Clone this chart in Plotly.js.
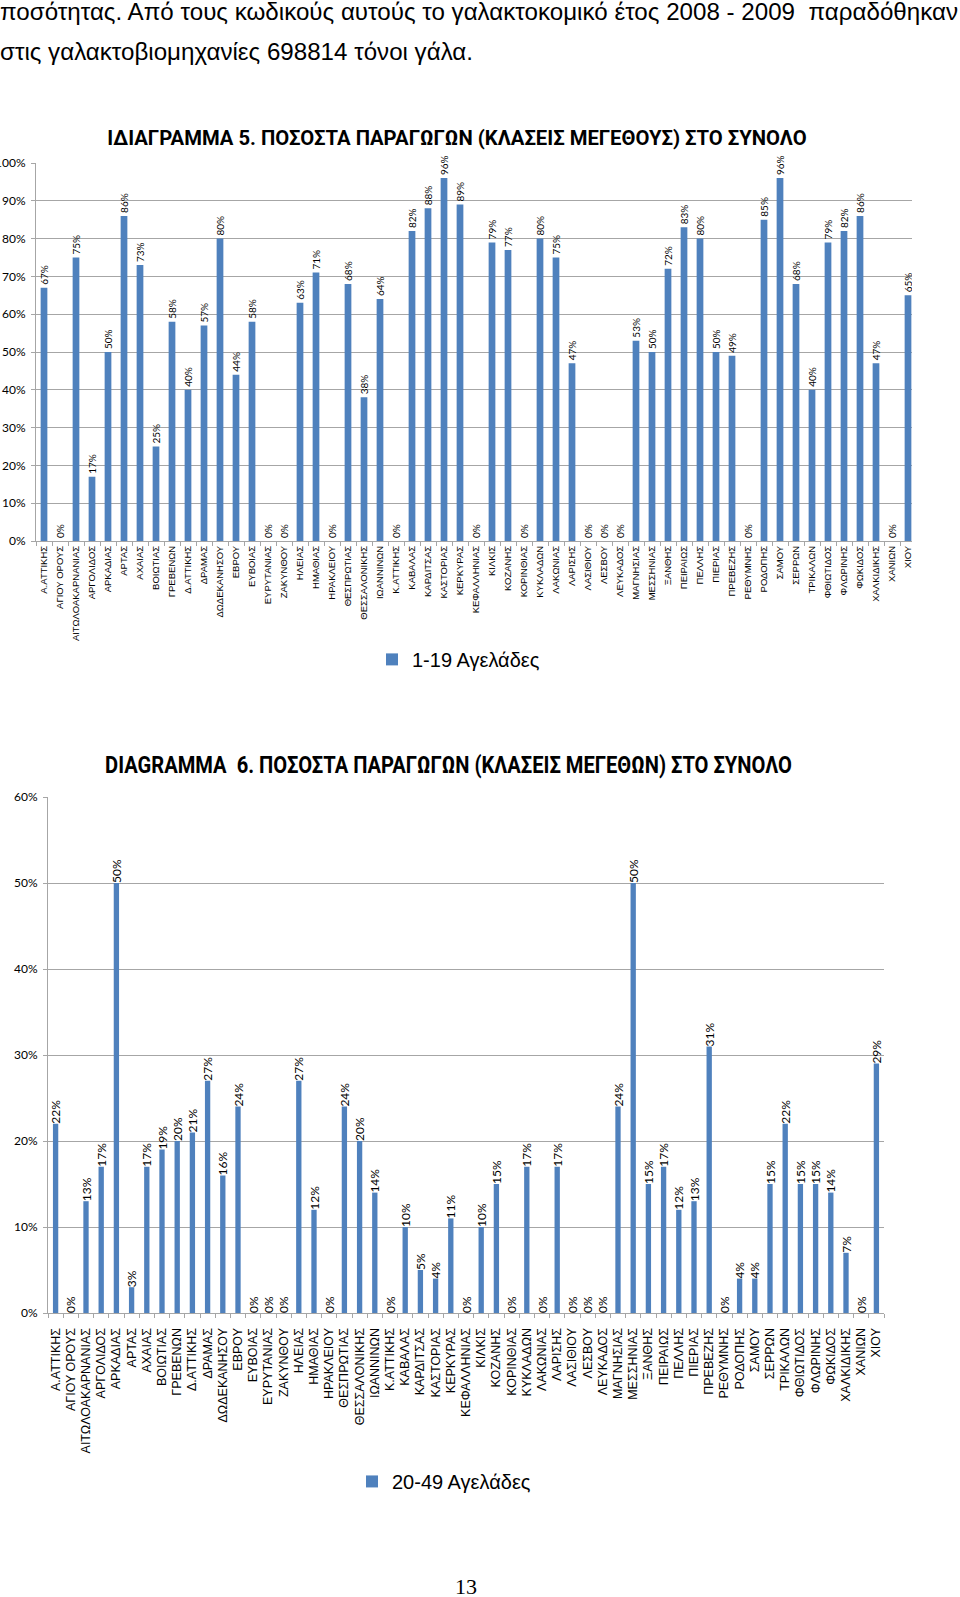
<!DOCTYPE html>
<html><head><meta charset="utf-8">
<script src="https://cdn.plot.ly/plotly-3.0.1.min.js"></script>
<style>
body{margin:0;background:#fff;width:960px;height:1597px;position:relative;overflow:hidden}
.line{position:absolute;left:0;white-space:pre;font-family:'Liberation Sans Narrow','Arial Narrow','Liberation Sans',Arial,sans-serif;font-size:24px;line-height:24px;color:#000;transform-origin:0 0}
#c1wrap{position:absolute;left:0;top:120px;width:912px;height:590px;overflow:hidden}
#c2{position:absolute;left:0;top:740px;width:960px;height:800px}
#pg{position:absolute;top:1576px;left:455px;font-family:'Liberation Serif','Times New Roman',serif;font-size:22px;line-height:22px}
</style></head><body>
<div class="line" id="t1" data-w="958" style="top:0">ποσότητας. Από τους κωδικούς αυτούς το γαλακτοκομικό έτος 2008 - 2009  παραδόθηκαν</div>
<div class="line" id="t2" data-w="473" style="top:40px">στις γαλακτοβιομηχανίες 698814 τόνοι γάλα.</div>
<div id="c1wrap"><div id="c1"></div></div>
<div id="c2"></div>
<div id="pg">13</div>
<script>
// ---- data ----
const categories = ['Α.ΑΤΤΙΚΗΣ','ΑΓΙΟΥ ΟΡΟΥΣ','ΑΙΤΩΛΟΑΚΑΡΝΑΝΙΑΣ','ΑΡΓΟΛΙΔΟΣ','ΑΡΚΑΔΙΑΣ','ΑΡΤΑΣ','ΑΧΑΙΑΣ','ΒΟΙΩΤΙΑΣ','ΓΡΕΒΕΝΩΝ','Δ.ΑΤΤΙΚΗΣ','ΔΡΑΜΑΣ','ΔΩΔΕΚΑΝΗΣΟΥ','ΕΒΡΟΥ','ΕΥΒΟΙΑΣ','ΕΥΡΥΤΑΝΙΑΣ','ΖΑΚΥΝΘΟΥ','ΗΛΕΙΑΣ','ΗΜΑΘΙΑΣ','ΗΡΑΚΛΕΙΟΥ','ΘΕΣΠΡΩΤΙΑΣ','ΘΕΣΣΑΛΟΝΙΚΗΣ','ΙΩΑΝΝΙΝΩΝ','Κ.ΑΤΤΙΚΗΣ','ΚΑΒΑΛΑΣ','ΚΑΡΔΙΤΣΑΣ','ΚΑΣΤΟΡΙΑΣ','ΚΕΡΚΥΡΑΣ','ΚΕΦΑΛΛΗΝΙΑΣ','ΚΙΛΚΙΣ','ΚΟΖΑΝΗΣ','ΚΟΡΙΝΘΙΑΣ','ΚΥΚΛΑΔΩΝ','ΛΑΚΩΝΙΑΣ','ΛΑΡΙΣΗΣ','ΛΑΣΙΘΙΟΥ','ΛΕΣΒΟΥ','ΛΕΥΚΑΔΟΣ','ΜΑΓΝΗΣΙΑΣ','ΜΕΣΣΗΝΙΑΣ','ΞΑΝΘΗΣ','ΠΕΙΡΑΙΩΣ','ΠΕΛΛΗΣ','ΠΙΕΡΙΑΣ','ΠΡΕΒΕΖΗΣ','ΡΕΘΥΜΝΗΣ','ΡΟΔΟΠΗΣ','ΣΑΜΟΥ','ΣΕΡΡΩΝ','ΤΡΙΚΑΛΩΝ','ΦΘΙΩΤΙΔΟΣ','ΦΛΩΡΙΝΗΣ','ΦΩΚΙΔΟΣ','ΧΑΛΚΙΔΙΚΗΣ','ΧΑΝΙΩΝ','ΧΙΟΥ'];
const share_1_19 = [67,0,75,17,50,86,73,25,58,40,57,80,44,58,0,0,63,71,0,68,38,64,0,82,88,96,89,0,79,77,0,80,75,47,0,0,0,53,50,72,83,80,50,49,0,85,96,68,40,79,82,86,47,0,65];
const share_20_49 = [22,0,13,17,50,3,17,19,20,21,27,16,24,0,0,0,27,12,0,24,20,14,0,10,5,4,11,0,10,15,0,17,0,17,0,0,0,24,50,15,17,12,13,31,0,4,4,15,22,15,15,14,7,0,29];
const title1 = 'ΙΔΙΑΓΡΑΜΜΑ 5. ΠΟΣΟΣΤΑ ΠΑΡΑΓΩΓΩΝ (ΚΛΑΣΕΙΣ ΜΕΓΕΘΟΥΣ) ΣΤΟ ΣΥΝΟΛΟ';
const title2 = 'DIAGRAMMA\u00a0 6. ΠΟΣΟΣΤΑ ΠΑΡΑΓΩΓΩΝ (ΚΛΑΣΕΙΣ ΜΕΓΕΘΩΝ) ΣΤΟ ΣΥΝΟΛΟ';
const name1 = '1-19 Αγελάδες';
const name2 = '20-49 Αγελάδες';

// ---- fit the body text lines ----
document.querySelectorAll('.line').forEach(el => {
  const w = el.getBoundingClientRect().width;
  el.style.transform = 'scaleX(' + (+el.dataset.w / w) + ')';
});

// ---- font helpers (style only) ----
const ctx = document.createElement('canvas').getContext('2d');
function hasFont(f) {
  const s = 'ΑΒΓΔ abc 123';
  ctx.font = 'bold 40px monospace';
  const a = ctx.measureText(s).width;
  ctx.font = 'bold 40px "' + f + '", monospace';
  return Math.abs(ctx.measureText(s).width - a) > 0.5;
}
function pickFont(list) { for (const f of list) if (hasFont(f)) return f; return 'sans-serif'; }
function fitSize(text, fam, target) {
  ctx.font = 'bold 100px "' + fam + '"';
  return 100 * target / ctx.measureText(text).width;
}
const fam1 = pickFont(['Roboto', 'Liberation Sans']);
const size1 = fitSize(title1, fam1, 700);

const BLUE = '#4F81BD';
const GRID = '#A6A6A6';
const numFont = 'Lato, Carlito, Calibri, sans-serif';

function barTrace(y, name, labelSize) {
  return {
    type: 'bar', x: categories, y: y, name: name,
    marker: {color: BLUE},
    texttemplate: '%{y:.0f}%', textposition: 'outside', textangle: -90,
    constraintext: 'none', cliponaxis: false,
    textfont: {family: numFont, size: labelSize, color: '#000'},
    hoverinfo: 'none'
  };
}

// ---- chart 1 (its right edge is cropped at 912px, as in the source) ----
const H1 = 590, W1 = 916;
const t1 = 43, b1 = H1 - 420.7, l1 = 36;
const pw1 = W1 - l1, ph1 = H1 - t1 - b1;
Plotly.newPlot('c1', [barTrace(share_1_19, name1, 10)], {
  width: W1, height: H1,
  margin: {l: l1, r: 0, t: t1, b: b1, pad: 0},
  paper_bgcolor: '#fff', plot_bgcolor: '#fff',
  bargap: 0.58, showlegend: true, hovermode: false,
  title: {text: title1, font: {family: fam1, size: size1, color: '#000', weight: 'bold'},
          x: 457 / W1, xanchor: 'center', xref: 'container', y: 1 - 18 / H1, yanchor: 'middle', yref: 'container'},
  xaxis: {type: 'category', range: [-0.5, categories.length - 0.5], tickangle: -90, tickmode: 'linear', tick0: 0, dtick: 1,
          tickfont: {family: "'Liberation Sans Narrow', 'Arial Narrow', 'Liberation Sans', sans-serif", size: 9.5, color: '#000'},
          ticks: 'outside', tickson: 'boundaries', ticklen: 4, tickcolor: GRID,
          showline: true, linecolor: GRID, showgrid: false, automargin: false},
  yaxis: {range: [0, 100], dtick: 10, tick0: 0, ticksuffix: '%', showgrid: true, gridcolor: GRID,
          showline: true, linecolor: GRID, ticks: 'outside', ticklen: 4, tickcolor: GRID, ticklabelstandoff: 3,
          tickfont: {family: numFont, size: 12, color: '#000'}, zeroline: false, automargin: false},
  legend: {orientation: 'h', x: (372 - l1) / pw1, xanchor: 'left', y: (420.7 - 539) / ph1, yanchor: 'middle',
           font: {family: "'Liberation Sans', Arial, sans-serif", size: 20, color: '#000'}, bgcolor: 'rgba(0,0,0,0)'}
}, {staticPlot: true, displayModeBar: false});

// ---- chart 2 ----
const H2 = 800, W2 = 960;
const t2 = 57.3, b2 = H2 - 573.5, l2 = 48, r2 = W2 - 884;
const pw2 = W2 - l2 - r2, ph2 = H2 - t2 - b2;
const title2Center = 448.5, title2Width = 687;
Plotly.newPlot('c2', [barTrace(share_20_49, name2, 12)], {
  width: W2, height: H2,
  margin: {l: l2, r: r2, t: t2, b: b2, pad: 0},
  paper_bgcolor: '#fff', plot_bgcolor: '#fff',
  bargap: 0.65, showlegend: true, hovermode: false,
  title: {text: title2, font: {family: fam1, size: 23.5, color: '#000', weight: 'bold'},
          x: title2Center / W2, xanchor: 'center', xref: 'container', y: 1 - 25 / H2, yanchor: 'middle', yref: 'container'},
  xaxis: {type: 'category', range: [-0.5, categories.length - 0.5], tickangle: -90, tickmode: 'linear', tick0: 0, dtick: 1,
          tickfont: {family: "'Liberation Sans', Arial, sans-serif", size: 12.5, color: '#000'},
          ticks: 'outside', tickson: 'boundaries', ticklen: 4, tickcolor: GRID, ticklabelstandoff: 9,
          showline: true, linecolor: GRID, showgrid: false, automargin: false},
  yaxis: {range: [0, 60], dtick: 10, tick0: 0, ticksuffix: '%', showgrid: true, gridcolor: GRID,
          showline: true, linecolor: GRID, ticks: 'outside', ticklen: 4, tickcolor: GRID, ticklabelstandoff: 3,
          tickfont: {family: numFont, size: 12, color: '#000'}, zeroline: false, automargin: false},
  legend: {orientation: 'h', x: (352 - l2) / pw2, xanchor: 'left', y: (573.5 - 742) / ph2, yanchor: 'middle',
           font: {family: "'Liberation Sans', Arial, sans-serif", size: 20, color: '#000'}, bgcolor: 'rgba(0,0,0,0)'}
}, {staticPlot: true, displayModeBar: false}).then(gd => {
  // the source title is a condensed face: narrow the drawn title to its measured width
  const t = gd.querySelector('.gtitle');
  if (t) {
    const w = t.getBBox().width;
    const sx = title2Width / w;
    t.setAttribute('transform', 'translate(' + (title2Center * (1 - sx)) + ',0) scale(' + sx + ',1)');
  }
});
</script>
</body></html>
